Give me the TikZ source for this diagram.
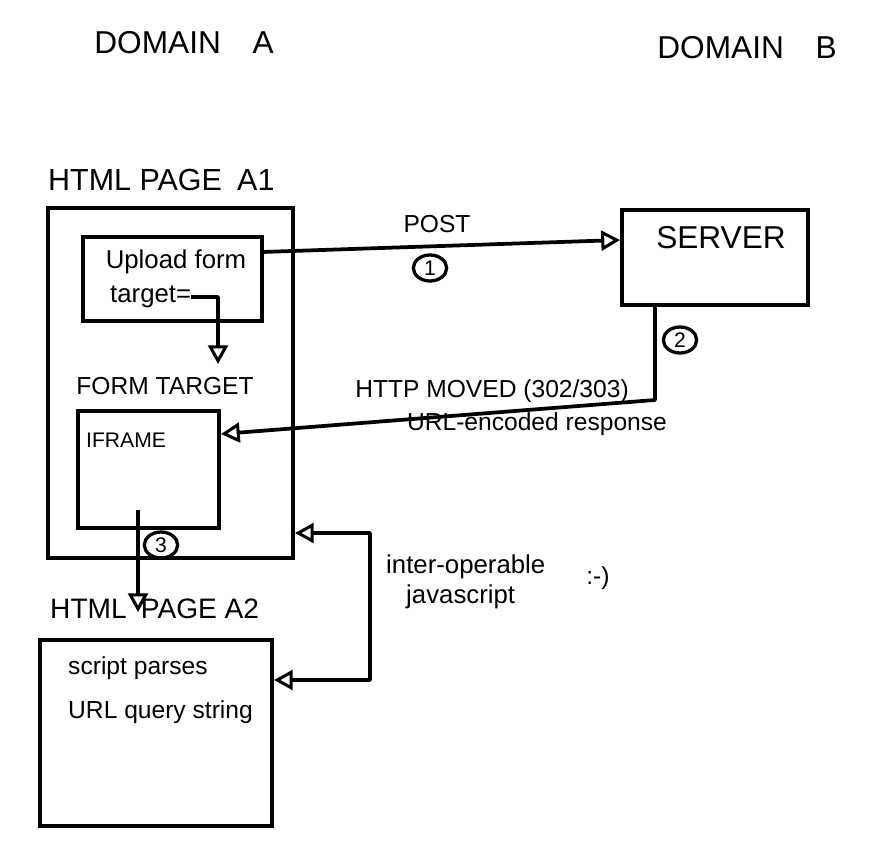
\documentclass[tikz,border=0pt]{standalone}
\usepackage{fontspec}
\setmainfont{Liberation Sans}
\usetikzlibrary{arrows.meta,fit,shapes.geometric}
\begin{document}
\begin{tikzpicture}[x=0.03cm,y=-0.03cm,
  box/.style={draw, line width=3.4pt, inner sep=0pt},
  big/.style={font=\fontsize{27}{32}\selectfont, inner sep=0pt},
  lbl/.style={font=\fontsize{21}{25}\selectfont, inner sep=0pt},
  wire/.style={line width=3.2pt, line join=round},
  opentip/.tip={Triangle[open,length=16pt,width=17pt,line width=2.6pt]},
  tip/.style={-opentip},
  num/.style={draw, ellipse, line width=2.8pt, inner sep=0pt, minimum width=1.0cm, minimum height=0.78cm, font=\fontsize{18}{20}\selectfont}]
\useasboundingbox (0,0) rectangle (869,858);

% domain headings
\node[big] (domA) at (184,43) {DOMAIN\enspace\enspace A};
\node[big] (domB) at (747,48) {DOMAIN\enspace\enspace B};

% page A1
\node[big, anchor=west, font=\fontsize{26}{30}\selectfont] (a1lbl) at (48,180) {HTML PAGE\enspace A1};
\node[box, fit={(48,208) (293,558)}] (a1) {};
\node[box, fit={(83,237) (262,321)}] (upload) {};
\node[lbl, font=\fontsize{22}{26}\selectfont] (uptxt) at (176,262) {Upload form};
\node[lbl, font=\fontsize{22}{26}\selectfont, anchor=west] (tgt) at (110,297) {target=};
\node[lbl] (ftarget) at (165,386) {FORM TARGET};
\coordinate (ftin) at (218,364);
\node[box, fit={(78,411) (219,528)}] (iframe) {};
\node[lbl, anchor=west, font=\fontsize{18}{22}\selectfont] (iftxt) at (86,440) {IFRAME};

% page A2
\node[big, anchor=west, font=\fontsize{24}{28}\selectfont] (a2lbl) at (50,609) {HTML\enspace PAGE A2};
\node[box, fit={(40,640) (272,826)}] (a2) {};
\node[lbl, anchor=west] (scr1) at (68,668) {script parses};
\node[lbl, anchor=west] (scr2) at (68,712) {URL query string};

% server
\node[box, fit={(622,210) (808,305)}] (server) {};
\node[big] (srvtxt) at (721,238) {SERVER};

% connector 1: POST
\coordinate (postout) at (262,252);
\draw[wire, tip] (postout) -- (server.west |- 0,240);
\node[lbl] (post) at (437,224) {POST};
\node[num] (n1) at (430,268) {1};

% connector 2: HTTP moved
\coordinate (c2a) at (655,305);
\coordinate (c2b) at (655,400);
\draw[wire, tip] (c2a) -- (c2b) -- (iframe.east |- 0,434);
\node[num] (n2) at (680,340) {2};
\node[lbl] (http) at (492,391) {HTTP MOVED (302/303)};
\node[lbl] (urlenc) at (537,424) {URL-encoded response};

% target arrow
\draw[wire, tip] (tgt.east) -| (ftin);

% connector 3
\coordinate (c3a) at (138,510);
\coordinate (c3b) at (138,612);
\draw[wire, tip] (c3a) -- (c3b);
\node[num] (n3) at (161,545) {3};

% javascript link
\coordinate (j1) at (370,533);
\coordinate (j2) at (370,680);
\draw[wire, opentip-opentip]
  (a1.east |- j1) -- (j1) -- (j2) -- (a2.east |- j2);
\node[lbl, align=left, anchor=west, font=\fontsize{22}{26}\selectfont] (js) at (386,582) {inter-operable\\\hspace*{0.6cm}javascript};
\node[lbl] (smile) at (598,578) {:-)};
\end{tikzpicture}
\end{document}
